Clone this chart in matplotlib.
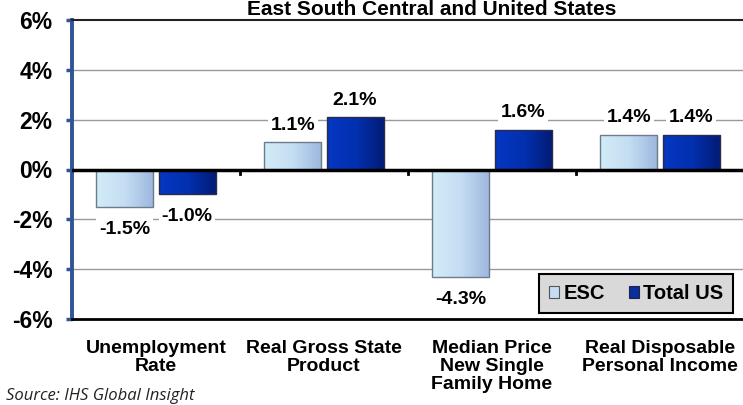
import matplotlib
matplotlib.use("Agg")
import matplotlib.pyplot as plt
import numpy as np
from matplotlib.patches import Patch
from matplotlib.colors import LinearSegmentedColormap
import matplotlib.transforms as mtransforms

plt.rcParams['font.family'] = ['Liberation Sans', 'DejaVu Sans']

categories = ["Unemployment\nRate", "Real Gross State\nProduct",
              "Median Price\nNew Single\nFamily Home", "Real Disposable\nPersonal Income"]
esc = [-1.5, 1.1, -4.3, 1.4]
us = [-1.0, 2.1, 1.6, 1.4]
series_names = ["ESC", "Total US"]
yticks = [-6, -4, -2, 0, 2, 4, 6]
title = "East South Central and United States"
source = "Source: IHS Global Insight"

fig = plt.figure(figsize=(7.43, 4.05), dpi=100)
ax = fig.add_axes([72/743, 86/405, 672/743, 299/405])

x = np.arange(len(categories))
w = 0.34
off = 0.185
b1 = ax.bar(x - off, esc, w, color='#B9D7EF', edgecolor='#6E7B8B', linewidth=1.0, zorder=3)
b2 = ax.bar(x + off, us, w, color='#0A2E9E', edgecolor='#2B2B4B', linewidth=1.0, zorder=3)

ax.set_xlim(-0.5, 3.5)
ax.set_ylim(-6, 6)

cm_esc = LinearSegmentedColormap.from_list('esc', ['#D2ECF8', '#C4DDF2', '#9DB7DF'])
cm_us = LinearSegmentedColormap.from_list('us', ['#0537C2', '#0330B0', '#021C74'])
grad = np.linspace(0, 1, 64).reshape(1, -1)
for bars, cm in ((b1, cm_esc), (b2, cm_us)):
    for p in bars:
        x0 = p.get_x(); x1 = x0 + p.get_width()
        y0 = p.get_y(); y1 = y0 + p.get_height()
        im = ax.imshow(grad, cmap=cm, extent=(x0, x1, min(y0, y1), max(y0, y1)),
                       aspect='auto', zorder=3.5, interpolation='bilinear')
        im.set_clip_path(p)
        p.set_facecolor('none')
        p.set_zorder(4)
ax.set_xlim(-0.5, 3.5)
ax.set_ylim(-6, 6)

# grid
for yv in yticks:
    if yv in (-6, 0, 6):
        continue
    ax.axhline(yv, color='#9A9A9A', linewidth=1.0, zorder=1)
ax.axhline(0, color='black', linewidth=2.5, zorder=5)
trans = mtransforms.blended_transform_factory(ax.transData, ax.transAxes)
for b in [0.5, 1.5, 2.5]:
    ax.plot([b, b], [0.5, 0.485], transform=trans, color='black', linewidth=2.0, zorder=5, clip_on=False)

# spines
ax.spines['right'].set_visible(False)
ax.spines['top'].set_color('#222222')
ax.spines['top'].set_linewidth(1.5)
ax.spines['bottom'].set_color('black')
ax.spines['bottom'].set_linewidth(2.0)
ax.spines['left'].set_color('#2F5597')
ax.spines['left'].set_linewidth(2.8)

ax.set_yticks(yticks)
ax.set_yticklabels([f"{v}%" for v in yticks], fontsize=16.5, fontweight='bold')
ax.tick_params(axis='y', direction='out', length=4, width=2.5, color='#2F5597', pad=10)
ax.set_xticks(x)
ax.set_xticklabels(categories, fontsize=14, fontweight='bold', linespacing=1.1)
ax.tick_params(axis='x', length=0, pad=15)
for lbl in ax.get_xticklabels():
    lbl.set_verticalalignment('top')

# value labels
for bars, vals in ((b1, esc), (b2, us)):
    for p, v in zip(bars, vals):
        cx = p.get_x() + p.get_width() / 2
        if v >= 0:
            ax.annotate(f"{v:.1f}%", (cx, v), xytext=(0, 6), textcoords='offset points',
                        ha='center', va='bottom', fontsize=14, fontweight='bold', zorder=6,
                        bbox=dict(boxstyle='square,pad=0.15', facecolor='white', edgecolor='none'))
        else:
            ax.annotate(f"{v:.1f}%", (cx, v), xytext=(0, -10), textcoords='offset points',
                        ha='center', va='top', fontsize=14, fontweight='bold', zorder=6,
                        bbox=dict(boxstyle='square,pad=0.15', facecolor='white', edgecolor='none'))

# legend
handles = [Patch(facecolor='#C4DDF2', edgecolor='#555555', linewidth=0.8),
           Patch(facecolor='#0A2E9E', edgecolor='#222244', linewidth=0.8)]
leg = ax.legend(handles, series_names, loc='lower right', bbox_to_anchor=(0.984, 0.02),
                ncol=2, frameon=True, fancybox=False, framealpha=1,
                facecolor='#D9D9D9', edgecolor='black', handlelength=0.5, handleheight=0.5,
                handletextpad=0.2, columnspacing=1.2, borderpad=0.5, borderaxespad=0,
                prop=dict(size=14.5, weight='bold'))
leg.get_frame().set_linewidth(1.5)
leg.set_zorder(7)

fig.text(432/743, 1.0, title, ha='center', va='top', fontsize=15, fontweight='bold')
fig.text(6/743, 1/405, source, ha='left', va='bottom', fontsize=12, style='italic',
         family=['Open Sans', 'DejaVu Sans'], color='#222222')

fig.savefig('out.png', dpi=100)
